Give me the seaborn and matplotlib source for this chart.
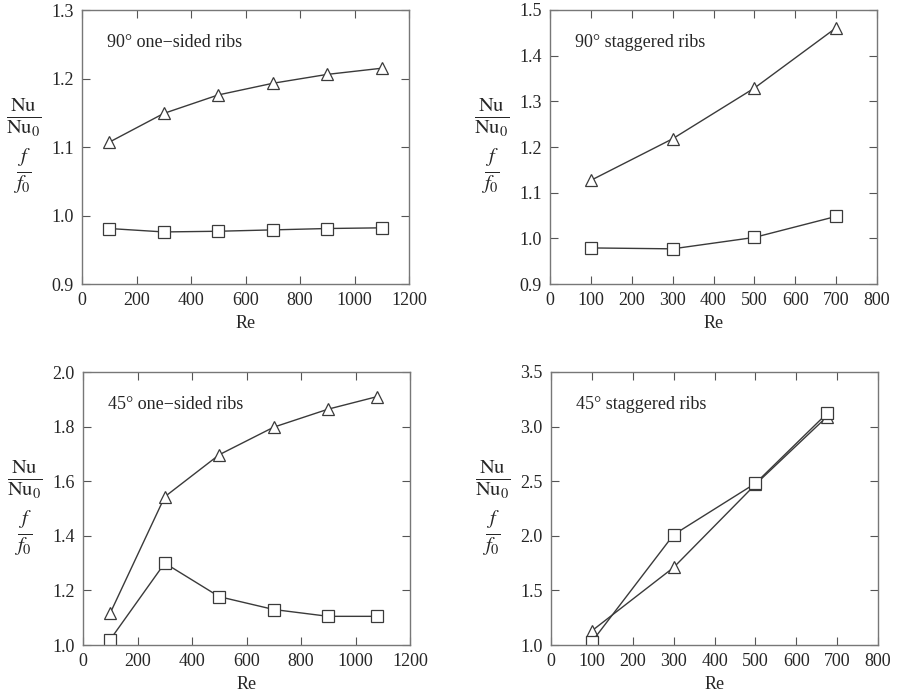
import matplotlib
matplotlib.use("Agg")
import matplotlib.pyplot as plt
import numpy as np
import pandas as pd
import seaborn as sns

sns.set_style("ticks")
plt.rcParams['font.family'] = ['Liberation Serif', 'DejaVu Serif']
plt.rcParams['mathtext.fontset'] = 'stix'

# panel data
re_90_one = [100, 300, 500, 700, 900, 1100]
nu_90_one = [1.107, 1.149, 1.176, 1.193, 1.206, 1.215]
f_90_one = [0.981, 0.976, 0.977, 0.979, 0.981, 0.982]

re_90_stag = [100, 300, 500, 700]
nu_90_stag = [1.127, 1.218, 1.329, 1.461]
f_90_stag = [0.979, 0.977, 1.002, 1.048]

re_45_one = [100, 300, 500, 700, 900, 1080]
nu_45_one = [1.117, 1.543, 1.697, 1.798, 1.864, 1.910]
f_45_one = [1.020, 1.300, 1.177, 1.130, 1.105, 1.105]

re_45_stag = [100, 300, 500, 675]
nu_45_stag = [1.13, 1.71, 2.47, 3.09]
f_45_stag = [1.03, 2.01, 2.48, 3.12]

titles = ["90° one\u2212sided ribs", "90° staggered ribs",
          "45° one\u2212sided ribs", "45° staggered ribs"]

panels = [
    (re_90_one, nu_90_one, f_90_one, (0, 1200), np.arange(0, 1201, 200), (0.9, 1.3), np.arange(0.9, 1.31, 0.1)),
    (re_90_stag, nu_90_stag, f_90_stag, (0, 800), np.arange(0, 801, 100), (0.9, 1.5), np.arange(0.9, 1.51, 0.1)),
    (re_45_one, nu_45_one, f_45_one, (0, 1200), np.arange(0, 1201, 200), (1.0, 2.0), np.arange(1.0, 2.01, 0.2)),
    (re_45_stag, nu_45_stag, f_45_stag, (0, 800), np.arange(0, 801, 100), (1.0, 3.5), np.arange(1.0, 3.51, 0.5)),
]

fig = plt.figure(figsize=(8.98, 6.99), dpi=100)
W, H = 898, 699
boxes = [(82, 10, 409, 284), (550, 10, 877, 284),
         (83, 372, 410, 645), (551, 372, 878, 645)]

line_col = "#3a3a3a"
for i, (re, nu, ff, xl, xt, yl, yt) in enumerate(panels):
    l, t, r, b = boxes[i]
    ax = fig.add_axes([l / W, 1 - b / H, (r - l) / W, (b - t) / H])
    df = pd.DataFrame({"Re": re, "nu": nu, "f": ff})
    sns.lineplot(data=df, x="Re", y="nu", ax=ax, color=line_col, lw=1.0,
                 marker="^", markersize=9, markerfacecolor="white",
                 markeredgecolor=line_col, markeredgewidth=0.9)
    sns.lineplot(data=df, x="Re", y="f", ax=ax, color=line_col, lw=1.0,
                 marker="s", markersize=8, markerfacecolor="white",
                 markeredgecolor=line_col, markeredgewidth=0.9)
    ax.set_xlim(*xl)
    ax.set_ylim(*yl)
    ax.set_xticks(xt)
    ax.set_yticks(yt)
    ax.set_yticklabels(["{:.1f}".format(v) for v in yt])
    ax.set_xticklabels([str(int(v)) for v in xt])
    ax.tick_params(direction="in", top=True, right=True, length=6,
                   width=0.8, color="#555555", labelsize=13, pad=6)
    for s in ax.spines.values():
        s.set_color("#777777")
        s.set_linewidth(1.0)
    ax.set_xlabel("Re", fontsize=13, labelpad=4)
    ax.set_ylabel("")
    ax.text(0.075, 0.88, titles[i], transform=ax.transAxes, fontsize=13,
            va="center", ha="left")
    # fraction style y labels
    fx = (l - 58) / W
    fy1 = 1 - (t + (b - t) * 0.395) / H
    fy2 = 1 - (t + (b - t) * 0.59) / H
    fig.text(fx, fy1, r"$\frac{\mathrm{Nu}}{\mathrm{Nu}_0}$", fontsize=21,
             ha="center", va="center")
    fig.text(fx - 2 / W, fy2, r"$\frac{f}{f_0}$", fontsize=21,
             ha="center", va="center")

fig.savefig("out.png", dpi=100)
